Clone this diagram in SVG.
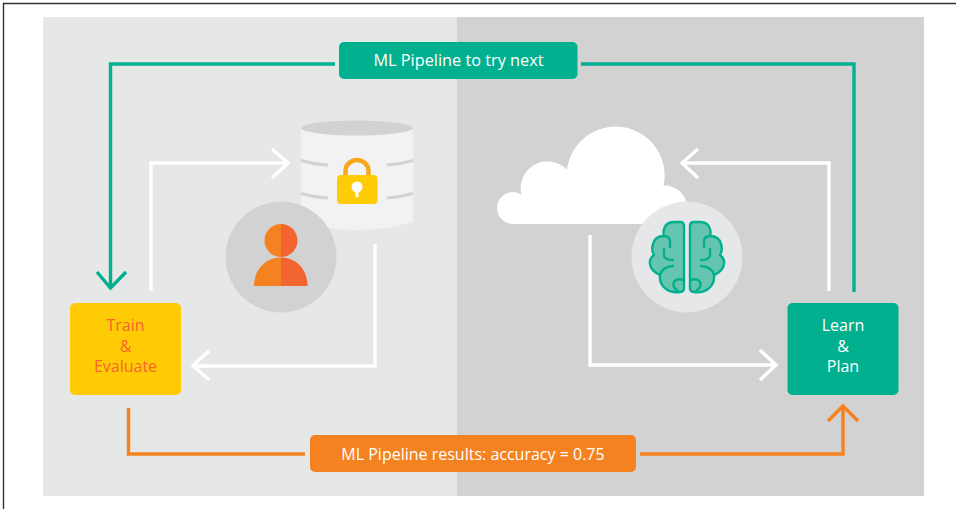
<svg xmlns="http://www.w3.org/2000/svg" width="956" height="509" viewBox="0 0 956 509">
<style>
text{font-family:"Open Sans","Noto Sans","Liberation Sans",sans-serif;font-size:16px;font-weight:500;text-anchor:middle;fill:#fff}
.teal{fill:none;stroke:#00b08f;stroke-width:3.4}
.org{fill:none;stroke:#f58220;stroke-width:3.4}
.wht{fill:none;stroke:#fff;stroke-width:3.4}
.band{fill:none;stroke:#d1d2d4;stroke-width:3}
.br{fill:#66c5ae;stroke:#00b08f;stroke-width:2.4;stroke-linejoin:round;stroke-linecap:round}
.ln{fill:none;stroke:#00b08f;stroke-width:2.4;stroke-linecap:round}
</style>
<defs>
<g id="hemi">
<path class="br" d="M684 226Q684 222 680 222L674 222Q666 222 664 229Q663 233 664 236Q655 236 653 244Q651 250 654 255Q649 259 650 264Q651 271 660 275Q659 284 666 289Q671 293 680 292Q684 292 684 288Z"/>
<path class="ln" d="M664 236Q670 236 670 242L670 247M664 249L664 256Q665 260 673 260M660 275Q662 267 673 266M683 280Q677 278 674 282Q672 287 678 291"/>
</g>
</defs>
<rect width="956" height="509" fill="#fff"/>
<path d="M956 3.500H3.500V509" fill="none" stroke="#333" stroke-width="1.400"/>
<rect x="43" y="17" width="414" height="479" fill="#e6e7e7"/>
<rect x="457" y="17" width="467" height="479" fill="#d2d2d2"/>
<g id="connectors">
<path class="teal" d="M335 64H110.500V288M97 272L110.500 288L126 272"/>
<path class="teal" d="M581 64H854V292"/>
<path class="org" d="M128.500 408V454H305"/>
<path class="org" d="M640 454H843V407M828 421L843 406L858 421"/>
<path class="wht" d="M151 291V163H286M272 149L288 163L272 178"/>
<path class="wht" d="M375 244V366H195M209 351L193 365.500L209 380"/>
<path class="wht" d="M590 235V365H774M760 350L776 365L760 380"/>
<path class="wht" d="M829 291V163H684M698 149L682 163L698 178"/>
</g>
<g id="database">
<path d="M301 128V222Q357 238 413 222V128Z" fill="#f2f2f2"/>
<ellipse cx="357" cy="128" rx="56" ry="7.500" fill="#d1d2d4"/>
<path class="band" d="M301 160.500Q313 164 328 165M413 160.500Q401 164 387 165M301 193.500Q313 197 328 198M413 193.500Q401 197 387 198"/>
<path d="M345.500 176V171A11.500 11 0 0 1 368.500 171V176" fill="none" stroke="#f5a81c" stroke-width="4.500"/>
<rect x="337" y="175" width="40.500" height="29" rx="4" fill="#ffcb05"/>
<circle cx="357" cy="187" r="5.500" fill="#fff"/>
<path d="M355.500 188H358.500V197H355.500Z" fill="#fff"/>
</g>
<g id="person">
<circle cx="281" cy="257" r="55.500" fill="#d2d2d3"/>
<path d="M281 224A16.500 16.500 0 0 0 281 257Z" fill="#f58220"/>
<path d="M281 224A16.500 16.500 0 0 1 281 257Z" fill="#f26531"/>
<path d="M281 257.500C265 257.500 254 270 254 286H281Z" fill="#f58220"/>
<path d="M281 257.500C297 257.500 307.500 270 307.500 286H281Z" fill="#f26531"/>
</g>
<g id="cloud">
<path fill="#fff" d="M513 224A16 16 0 0 1 513 192Q518 192 521.500 195A27 27 0 0 1 567 169.500A49 49 0 1 1 663.500 186Q667 185 671 186.500Q683 190 687 203V224Z"/>
</g>
<g id="brain">
<circle cx="687" cy="257" r="55.500" fill="#e6e7e8"/>
<use href="#hemi"/>
<use href="#hemi" transform="matrix(-1 0 0 1 1374 0)"/>
</g>
<g id="train">
<rect x="70" y="303" width="111" height="92" rx="5" fill="#ffcb05"/>
<text x="125.500" y="331" style="fill:#f7652f">Train</text>
<text x="125.500" y="352" style="fill:#f7652f">&amp;</text>
<text x="125.500" y="372" style="fill:#f7652f">Evaluate</text>
</g>
<g id="learn">
<rect x="787.500" y="303" width="111" height="92" rx="5" fill="#00b08f"/>
<text x="843" y="331">Learn</text>
<text x="843" y="352">&amp;</text>
<text x="843" y="372">Plan</text>
</g>
<g id="next">
<rect x="339" y="42" width="238.500" height="37" rx="5" fill="#00b08f"/>
<text x="458.500" y="66" style="font-size:16.300px">ML Pipeline to try next</text>
</g>
<g id="results">
<rect x="310" y="435" width="326" height="37" rx="5" fill="#f58220"/>
<text x="473" y="460">ML Pipeline results: accuracy = 0.75</text>
</g>
</svg>
